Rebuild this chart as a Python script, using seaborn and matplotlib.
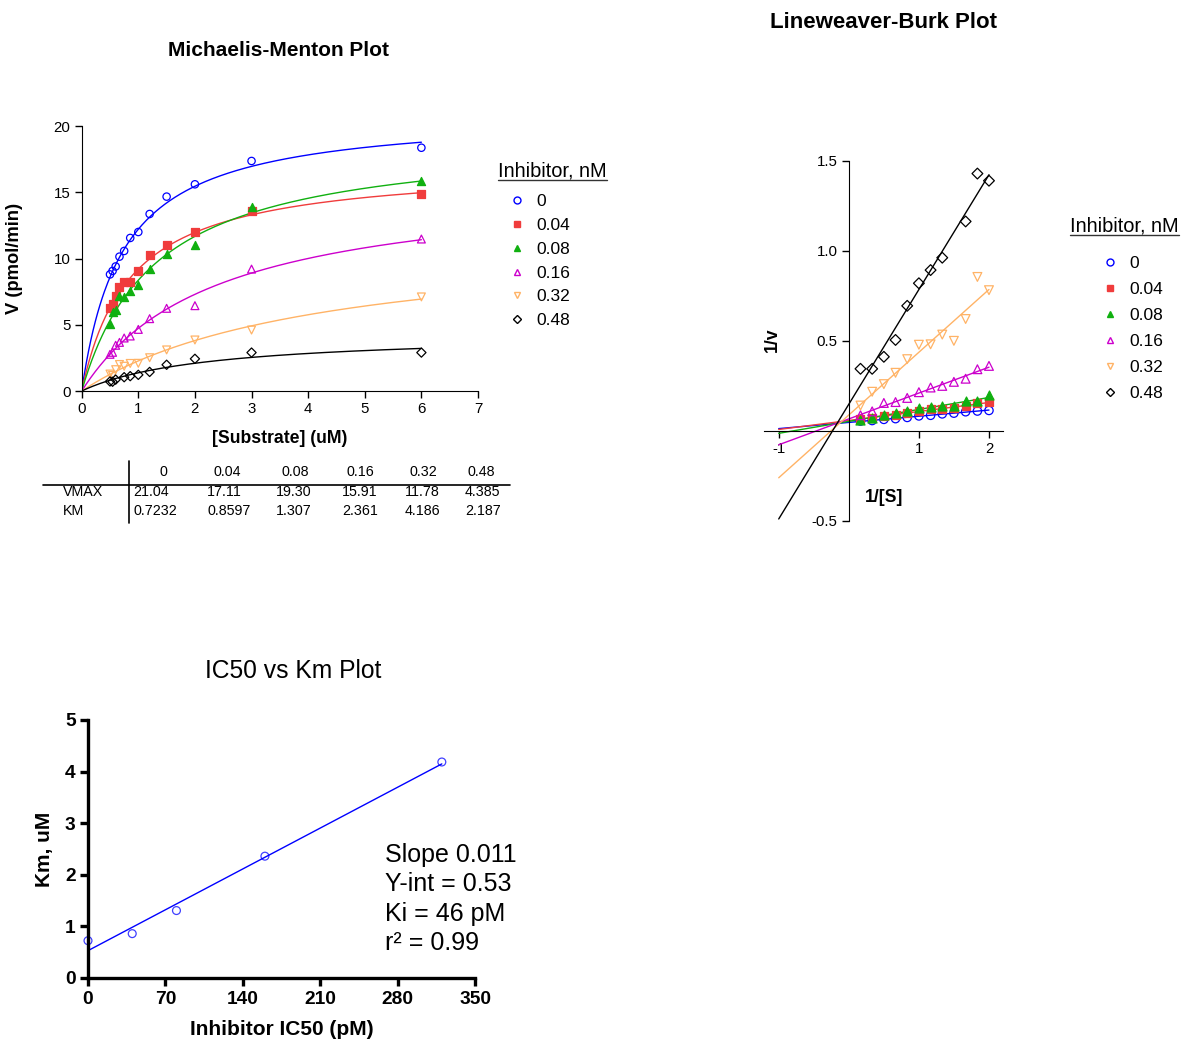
import numpy as np
import pandas as pd
import matplotlib.pyplot as plt
import seaborn as sns
from matplotlib.lines import Line2D

sns.set_style('ticks')
plt.rcParams['font.family'] = ['Liberation Sans', 'DejaVu Sans']
plt.rcParams['axes.unicode_minus'] = False
for key in ['text.color', 'axes.labelcolor', 'xtick.color', 'ytick.color', 'axes.edgecolor']:
    plt.rcParams[key] = 'black'

# ---- data ---- #
substrate = [0.5, 0.545, 0.6, 0.667, 0.75, 0.857, 1.0, 1.2, 1.5, 2.0, 3.0, 6.0]   # uM
inhibitor = ['0', '0.04', '0.08', '0.16', '0.32', '0.48']                           # nM

v_0 = [8.8, 9.06, 9.4, 10.14, 10.57, 11.55, 12.0, 13.36, 14.67, 15.6, 17.36, 18.36]
v_004 = [6.29, 6.54, 7.17, 7.85, 8.25, 8.23, 9.06, 10.26, 11.02, 12.0, 13.56, 14.84]
v_008 = [5.08, 5.94, 6.09, 7.19, 7.12, 7.55, 8.0, 9.2, 10.31, 10.99, 13.86, 15.87]
v_016 = [2.77, 2.92, 3.45, 3.67, 4.0, 4.15, 4.65, 5.46, 6.24, 6.44, 9.2, 11.47]
v_032 = [1.28, 1.17, 1.61, 2.0, 1.87, 2.08, 2.09, 2.51, 3.1, 3.85, 4.6, 7.1]
v_048 = [0.72, 0.70, 0.86, np.nan, 1.04, 1.12, 1.22, 1.44, 1.98, 2.43, 2.9, 2.9]
velocities = [v_0, v_004, v_008, v_016, v_032, v_048]

vmax = [21.04, 17.11, 19.30, 15.91, 11.78, 4.385]
km = [0.7232, 0.8597, 1.307, 2.361, 4.186, 2.187]
vmax_txt = ['21.04', '17.11', '19.30', '15.91', '11.78', '4.385']
km_txt = ['0.7232', '0.8597', '1.307', '2.361', '4.186', '2.187']

ic50_pm = [0, 40, 80, 160, 320]
km_ic50 = [0.7232, 0.8597, 1.307, 2.361, 4.186]
fit_text = ['Slope 0.011', 'Y-int = 0.53', 'Ki = 46 pM', 'r\u00b2 = 0.99']

# ---- styles ---- #
colors = ['#0000FF', '#F03C3C', '#10B010', '#CC00CC', '#FFB366', '#000000']
markers = ['o', 's', '^', '^', 'v', 'D']
filled = [False, True, True, False, False, False]
msizes = [28, 26, 34, 32, 32, 22]

W, H = 1190, 1041
fig = plt.figure(figsize=(W / 100, H / 100), dpi=100)


def fx(px):
    return px / W


def fy(py):
    return 1 - py / H


def draw_legend(x_title, y_title, x_box, y_box, spacing):
    t = fig.text(fx(x_title), fy(y_title), 'Inhibitor, nM', fontsize=14.4,
                 va='center', ha='left')
    handles = [Line2D([], [], ls='none', marker=m, ms=5 if m != 'D' else 4,
                      mfc=c if f else 'none', mec=c, mew=1)
               for m, c, f in zip(markers, colors, filled)]
    fig.legend(handles, inhibitor, loc='upper left',
               bbox_to_anchor=(fx(x_box), fy(y_box)), frameon=False,
               fontsize=12.5, handlelength=1.0, handletextpad=0.65,
               labelspacing=spacing, borderpad=0, borderaxespad=0)
    return t


# ---- Michaelis-Menten ---- #
ax1 = fig.add_axes([fx(81.7), fy(391), fx(478) - fx(81.7), fy(126) - fy(391)])
s_fit = np.linspace(0, 6, 300)
for i in range(6):
    v_fit = vmax[i] * s_fit / (km[i] + s_fit)
    sns.lineplot(x=s_fit, y=v_fit, color=colors[i], lw=1, ax=ax1)
    sns.scatterplot(x=substrate, y=velocities[i], marker=markers[i],
                    s=msizes[i], facecolor=colors[i] if filled[i] else 'none',
                    edgecolor=colors[i], linewidth=0.9, ax=ax1, zorder=3)
ax1.set_xlim(0, 7)
ax1.set_ylim(0, 20)
ax1.set_xticks(range(0, 8))
ax1.set_yticks([0, 5, 10, 15, 20])
ax1.tick_params(labelsize=10.8, length=5, width=1, direction='out', pad=3)
sns.despine(ax=ax1)
ax1.set_xlabel('[Substrate] (uM)', fontsize=12.7, fontweight='bold', labelpad=10)
ax1.set_ylabel('V (pmol/min)', fontsize=13.2, fontweight='bold', labelpad=22)
fig.text(fx(279), fy(50), 'Michaelis-Menton Plot', fontsize=15, fontweight='bold',
         ha='center', va='center')
t1 = draw_legend(498, 171, 508, 194, 0.5)

# kinetic parameter table
fig.add_artist(Line2D([fx(43), fx(510)], [fy(485), fy(485)], color='black', lw=1.2))
fig.add_artist(Line2D([fx(129), fx(129)], [fy(461), fy(523)], color='black', lw=1.2))
head_x = [163, 227, 295, 360, 423, 481]
val_x = [133, 207, 276, 342, 405, 465]
for i in range(6):
    fig.text(fx(head_x[i]), fy(472), inhibitor[i], fontsize=10.3, ha='center', va='center')
    fig.text(fx(val_x[i]), fy(492), vmax_txt[i], fontsize=10.3, ha='left', va='center')
    fig.text(fx(val_x[i]), fy(511), km_txt[i], fontsize=10.3, ha='left', va='center')
fig.text(fx(63), fy(492), 'VMAX', fontsize=10.3, ha='left', va='center')
fig.text(fx(63), fy(511), 'KM', fontsize=10.3, ha='left', va='center')

# ---- Lineweaver-Burk ---- #
ax2 = fig.add_axes([fx(764), fy(521), fx(1003) - fx(764), fy(160.7) - fy(521)])
inv_s = 1 / np.array(substrate)
x_line = np.array([-1.0, 2.0])
for i in range(6):
    inv_v = 1 / np.array(velocities[i], dtype=float)
    ok = ~np.isnan(inv_v)
    slope, icpt = np.polyfit(inv_s[ok], inv_v[ok], 1)
    sns.lineplot(x=x_line, y=slope * x_line + icpt, color=colors[i], lw=1, ax=ax2)
    sns.scatterplot(x=inv_s, y=inv_v, marker=markers[i],
                    s=msizes[i] + 8, facecolor=colors[i] if filled[i] else 'none',
                    edgecolor=colors[i], linewidth=0.9, ax=ax2, zorder=3)
ax2.set_xlim(-1.21, 2.2)
ax2.set_ylim(-0.5, 1.5)
ax2.spines['left'].set_position(('data', 0))
ax2.spines['bottom'].set_position(('data', 0))
sns.despine(ax=ax2)
ax2.set_xticks([-1, 1, 2])
ax2.set_yticks([-0.5, 0.5, 1.0, 1.5])
ax2.set_yticklabels(['-0.5', '0.5', '1.0', '1.5'])
ax2.tick_params(labelsize=10.8, length=5, width=1, direction='out', pad=3)
ax2.set_xlabel('')
ax2.set_ylabel('')
fig.text(fx(884), fy(498), '1/[S]', fontsize=12.7, fontweight='bold', ha='center', va='center')
fig.text(fx(772), fy(340), '1/v', fontsize=12.7, fontweight='bold', ha='center',
         va='center', rotation=90)
fig.text(fx(883), fy(22), 'Lineweaver-Burk Plot', fontsize=16, fontweight='bold',
         ha='center', va='center')
t2 = draw_legend(1070, 226, 1101, 256, 0.62)

# ---- IC50 vs Km ---- #
ax3 = fig.add_axes([fx(88), fy(978), fx(475) - fx(88), fy(720) - fy(978)])
sns.regplot(x=ic50_pm, y=km_ic50, ci=None, ax=ax3, color='#0000FF',
            scatter_kws=dict(facecolors='none', edgecolors='#0000FF', s=32,
                             linewidths=0.9, clip_on=False, alpha=0.75),
            line_kws=dict(lw=1))
ax3.set_xlim(0, 350)
ax3.set_ylim(0, 5)
ax3.set_xticks(range(0, 351, 70))
ax3.set_yticks(range(0, 6))
sns.despine(ax=ax3)
for sp in ['left', 'bottom']:
    ax3.spines[sp].set_linewidth(2.4)
ax3.tick_params(labelsize=13.8, length=6, width=2.4, direction='out', pad=3)
for lab in ax3.get_xticklabels() + ax3.get_yticklabels():
    lab.set_fontweight('bold')
ax3.set_xlabel('Inhibitor IC50 (pM)', fontsize=15, fontweight='bold', labelpad=9)
ax3.set_ylabel('Km, uM', fontsize=15, fontweight='bold', labelpad=8)
fig.text(fx(293), fy(671), 'IC50 vs Km Plot', fontsize=17.7, ha='center', va='center')
for j, line in enumerate(fit_text):
    fig.text(fx(385), fy(855 + 29.3 * j), line, fontsize=18, ha='left', va='center')

# underline the legend titles
fig.canvas.draw()
for t in (t1, t2):
    bb = t.get_window_extent()
    fig.add_artist(Line2D([bb.x0 / W, bb.x1 / W], [(bb.y0 + 1) / H, (bb.y0 + 1) / H],
                          color='#333333', lw=1))

fig.savefig('out.png', dpi=100)
